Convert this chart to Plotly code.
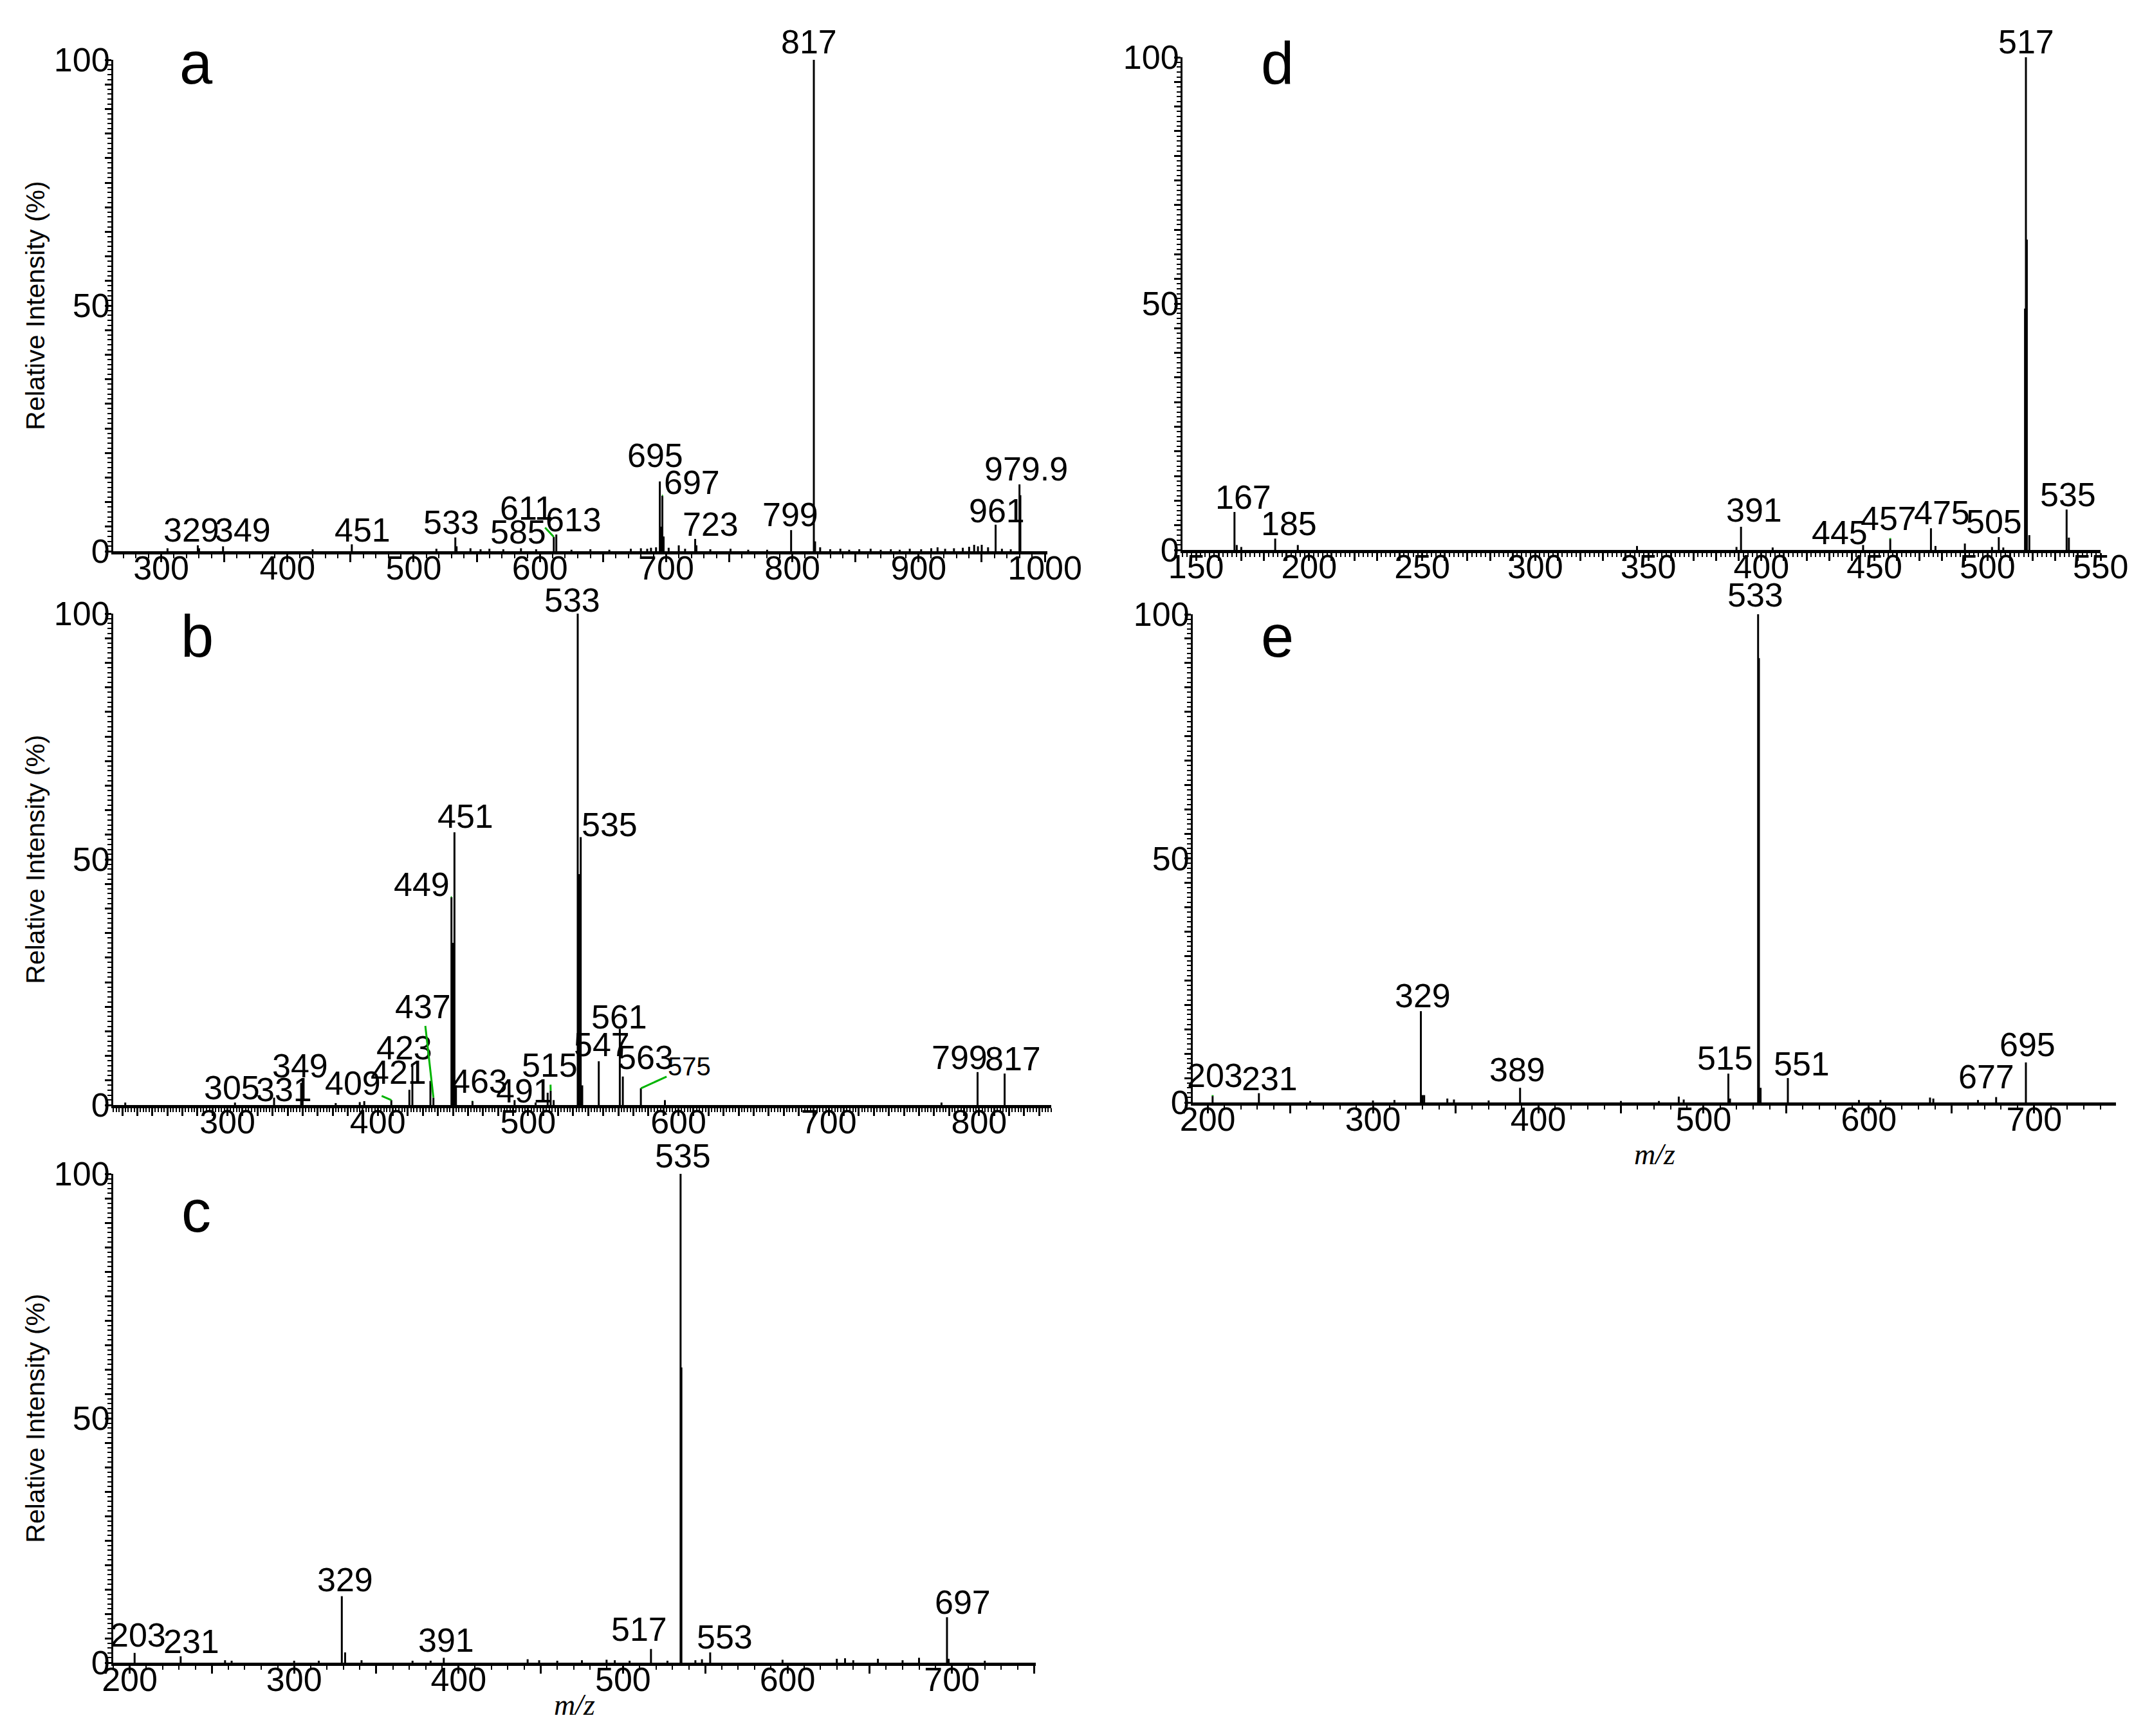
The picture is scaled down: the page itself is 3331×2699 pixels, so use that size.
import plotly.graph_objects as go

W, H = 3331, 2699

# ------------------------------------------------------------------ data
# Panel a
A_MZ = [305, 329, 330, 349, 420, 451, 518, 533, 534, 545, 553, 560, 571, 585, 597, 611, 613, 625, 640,
        655, 672, 680, 685, 688, 692, 695, 696, 697, 698, 702, 710, 715, 723, 724, 735, 751, 765, 780,
        799, 817, 818, 822, 830, 838, 845, 853, 862, 870, 878, 885, 893, 902, 910, 915, 921, 928, 935,
        940, 944, 947, 950, 955, 961, 966, 973, 979.9, 980.6]
A_INT = [0.6, 1.2, 0.6, 1.0, 0.4, 1.4, 0.5, 2.8, 1.0, 0.6, 0.4, 0.5, 0.4, 0.6, 0.4, 2.9, 3.4, 0.3, 0.4,
         0.3, 0.5, 0.6, 0.5, 0.7, 0.8, 14.2, 5.0, 11.3, 3.0, 0.7, 1.2, 0.5, 2.5, 1.2, 0.4, 0.5, 0.3, 0.3,
         4.3, 100, 2.0, 0.8, 0.4, 0.5, 0.3, 0.4, 0.5, 0.3, 0.4, 0.3, 0.5, 0.4, 0.6, 0.8, 0.5, 0.6, 0.7,
         0.9, 1.3, 1.0, 1.3, 0.8, 5.4, 0.5, 0.4, 13.6, 11.4]
A_LABEL_MZ = [329, 349, 451, 533, 585, 611, 613, 695, 697, 723, 799, 817, 961, 979.9]
A_LABEL_TEXT = ["329", "349", "451", "533", "585", "611", "613", "695", "697", "723", "799", "817", "961", "979.9"]

# Panel b
B_MZ = [232, 305, 331, 349, 350, 372, 388, 391, 409, 421, 423, 435, 437, 449, 450, 451, 452, 463, 491,
        505, 513, 515, 517, 533, 534, 535, 536, 547, 561, 563, 575, 591, 775, 799, 817]
B_INT = [0.5, 0.5, 1.5, 4.5, 1.5, 0.4, 0.6, 0.8, 1.0, 3.1, 8.4, 4.9, 1.5, 42.3, 33.0, 55.5, 4.0, 0.8, 1.0,
         0.5, 2.5, 2.9, 1.0, 100, 47.0, 54.5, 4.0, 8.9, 15.5, 5.8, 3.4, 1.0, 0.5, 6.7, 6.4]
B_LABEL_MZ = [305, 331, 349, 409, 421, 423, 437, 449, 451, 463, 491, 515, 533, 535, 547, 561, 563, 575, 799, 817]
B_LABEL_TEXT = ["305", "331", "349", "409", "421", "423", "437", "449", "451", "463", "491", "515", "533",
                "535", "547", "561", "563", "575", "799", "817"]

# Panel c
C_MZ = [203, 231, 258, 262, 300, 315, 329, 331, 341, 372, 383, 391, 442, 449, 460, 475, 490, 495, 504,
        517, 527, 535, 535.5, 544, 548, 553, 597, 630, 635, 640, 655, 670, 680, 697, 698, 720]
C_INT = [2.0, 1.3, 0.5, 0.4, 0.4, 0.4, 13.6, 2.1, 0.5, 0.4, 0.4, 1.0, 0.7, 0.5, 0.4, 0.5, 0.6, 0.5, 0.4,
         2.8, 0.4, 100, 60.4, 0.5, 0.7, 2.1, 0.6, 0.8, 0.9, 0.5, 0.8, 0.5, 1.0, 9.3, 0.8, 0.4]
C_LABEL_MZ = [203, 231, 329, 391, 517, 535, 553, 697]
C_LABEL_TEXT = ["203", "231", "329", "391", "517", "535", "553", "697"]

# Panel d
D_MZ = [167, 168, 170, 185, 195, 345, 389, 391, 405, 445, 457, 475, 477, 490, 502, 505, 507,
        516.6, 517, 517.4, 518.5, 535, 536]
D_INT = [7.7, 1.0, 0.6, 2.3, 1.0, 0.8, 0.6, 4.7, 0.5, 1.0, 2.2, 4.4, 0.8, 1.3, 0.6, 2.6, 0.5,
         49.0, 100, 63.0, 3.0, 8.2, 2.5]
D_LABEL_MZ = [167, 185, 391, 445, 457, 475, 505, 517, 535]
D_LABEL_TEXT = ["167", "185", "391", "445", "457", "475", "505", "517", "535"]

# Panel e
E_MZ = [203, 231, 262, 300, 313, 329, 330, 331, 345, 349, 370, 389, 450, 473, 485, 488, 515, 516,
        533, 533.5, 534.5, 551, 594, 607, 637, 639, 666, 677, 695]
E_INT = [1.3, 1.9, 0.3, 0.4, 0.5, 18.7, 1.5, 1.5, 0.8, 0.6, 0.4, 3.0, 0.3, 0.3, 1.2, 0.6, 5.9, 0.8,
         100, 91.0, 3.0, 5.0, 0.5, 0.5, 1.0, 0.8, 0.5, 1.1, 8.2]
E_LABEL_MZ = [203, 231, 329, 389, 515, 533, 551, 677, 695]
E_LABEL_TEXT = ["203", "231", "329", "389", "515", "533", "551", "677", "695"]

# tick labels
Y_TICK_LABELS = {0: "0", 50: "50", 100: "100"}
A_XTICK_LABELS = ["300", "400", "500", "600", "700", "800", "900", "1000"]
B_XTICK_LABELS = ["300", "400", "500", "600", "700", "800"]
C_XTICK_LABELS = ["200", "300", "400", "500", "600", "700"]
D_XTICK_LABELS = ["150", "200", "250", "300", "350", "400", "450", "500", "550"]
E_XTICK_LABELS = ["200", "300", "400", "500", "600", "700"]

Y_TITLE = "Relative Intensity (%)"
X_TITLE = "<i>m/z</i>"

# ------------------------------------------------------------------ styles / layout
FONT = "Liberation Sans, Arial, sans-serif"
GREEN = "#00b400"

# label offsets: (dx px, lift px of glyph baseline above the peak top, leader line?)
A_OFF = {"329": (-10, 5, False), "349": (31, 7, True), "451": (17, 3, False), "533": (-6, 6, True),
         "585": (-4, 6, False), "611": (-42, 27, True), "613": (27, 4, False), "695": (-7, 22, False),
         "697": (46, 3, True), "723": (24, 5, True), "799": (-1, 5, False), "817": (-8, 9, False),
         "961": (2, 3, False), "979.9": (10, 5, False)}
B_OFF = {"305": (-5, 4, False), "331": (15, -6, False), "349": (-2, 8, False), "409": (-60, 8, True),
         "421": (-17, 9, True), "423": (-12, 6, False), "437": (-16, 124, True), "449": (-46, 2, True),
         "451": (17, 6, False), "463": (11, 13, True), "491": (15, -5, False), "515": (-1, 22, True),
         "533": (-8, 2, False), "535": (45, 2, True), "547": (5, 7, False), "561": (-1, 0, False),
         "563": (35, 12, True), "575": (75, 16, True), "799": (-28, 5, True), "817": (13, 4, False)}
C_OFF = {"203": (5, 10, True), "231": (17, 4, False), "329": (5, 7, False), "391": (4, 8, False),
         "517": (-18, 12, False), "535": (4, 9, False), "553": (23, 5, False), "697": (25, 4, False)}
D_OFF = {"167": (14, 4, False), "185": (21, 4, False), "391": (20, 7, False), "445": (-36, 1, True),
         "457": (-3, 14, True), "475": (17, 5, False), "505": (-7, 5, False), "517": (0, 5, False),
         "535": (2, 4, False)}
E_OFF = {"203": (4, 14, True), "231": (17, 4, False), "329": (3, 5, False), "389": (-4, 9, False),
         "515": (-5, 5, False), "533": (-4, 11, False), "551": (22, 3, False), "677": (-15, 13, False),
         "695": (3, 9, False)}
SMALL_LABELS = {"575": 40}

# panel geometry in pixels: (x0, x1, ytop, ybottom)
PANELS = {
    "a": dict(px=(168, 1620, 85, 849), xr=[262, 1002], major=50, minor=10, ticks=A_XTICK_LABELS,
              mz=A_MZ, it=A_INT, lmz=A_LABEL_MZ, ltx=A_LABEL_TEXT, off=A_OFF, ytitle=True, xtitle=None,
              letter=(297, 90)),
    "b": dict(px=(168, 1626, 946, 1710), xr=[224, 848], major=10, minor=2, ticks=B_XTICK_LABELS,
              mz=B_MZ, it=B_INT, lmz=B_LABEL_MZ, ltx=B_LABEL_TEXT, off=B_OFF, ytitle=True, xtitle=None,
              letter=(298, 981)),
    "c": dict(px=(168, 1602, 1817, 2577), xr=[190, 751], major=50, minor=10, ticks=C_XTICK_LABELS,
              mz=C_MZ, it=C_INT, lmz=C_LABEL_MZ, ltx=C_LABEL_TEXT, off=C_OFF, ytitle=True, xtitle=2642,
              letter=(297, 1875)),
    "d": dict(px=(1830, 3257, 81, 847), xr=[144, 550], major=10, minor=2, ticks=D_XTICK_LABELS,
              mz=D_MZ, it=D_INT, lmz=D_LABEL_MZ, ltx=D_LABEL_TEXT, off=D_OFF, ytitle=False, xtitle=None,
              letter=(1977, 90)),
    "e": dict(px=(1846, 3281, 947, 1706), xr=[191, 749.5], major=50, minor=10, ticks=E_XTICK_LABELS,
              mz=E_MZ, it=E_INT, lmz=E_LABEL_MZ, ltx=E_LABEL_TEXT, off=E_OFF, ytitle=False, xtitle=1786,
              letter=(1977, 981)),
}

LABEL_FONT = 52
TICK_FONT = 52
BOX_BELOW_BASELINE = 12   # px from glyph baseline to bottom of annotation box
CAP_HALF = 18

fig = go.Figure()
annotations = []
layout_axes = {}

for i, (name, p) in enumerate(PANELS.items(), start=1):
    sx = "" if i == 1 else str(i)
    xa, ya = "x" + sx, "y" + sx
    x0, x1, yt, yb = p["px"]

    xs, ys = [], []
    for m, h in zip(p["mz"], p["it"]):
        xs += [m, m, None]
        ys += [0, h, None]
    fig.add_trace(go.Scatter(x=xs, y=ys, mode="lines", xaxis=xa, yaxis=ya,
                             line=dict(color="black", width=3), hoverinfo="skip", showlegend=False,
                             cliponaxis=False))

    # x ticks
    lo, hi = p["xr"]
    start = int((lo // p["major"] + 1) * p["major"])
    tv = list(range(start, int(hi) + 1, p["major"]))
    tt = [str(v) if str(v) in p["ticks"] else "" for v in tv]
    layout_axes["xaxis" + sx] = dict(
        domain=[x0 / W, x1 / W], range=p["xr"], anchor=ya, showline=True, linewidth=5, linecolor="black",
        ticks="outside", ticklen=12, tickwidth=3, tickcolor="black", tickvals=tv, ticktext=tt,
        ticklabelstandoff=-35,
        minor=dict(dtick=p["minor"], ticks="outside", ticklen=6, tickwidth=2, tickcolor="black", showgrid=False),
        showgrid=False, zeroline=False, tickfont=dict(family=FONT, size=TICK_FONT, color="black"),
        automargin=False)
    ytv = list(range(0, 101, 5))
    ytt = [Y_TICK_LABELS.get(v, "") for v in ytv]
    layout_axes["yaxis" + sx] = dict(
        domain=[1 - yb / H, 1 - yt / H], range=[0, 100], anchor=xa, showline=True, linewidth=3,
        linecolor="black", ticks="outside", ticklen=10, tickwidth=3, tickcolor="black",
        tickvals=ytv, ticktext=ytt, ticklabelstandoff=-18,
        minor=dict(dtick=1, ticks="outside", ticklen=6, tickwidth=2, tickcolor="black", showgrid=False),
        showgrid=False, zeroline=False, tickfont=dict(family=FONT, size=TICK_FONT, color="black"),
        title=dict(text=Y_TITLE if p["ytitle"] else "", standoff=2,
                   font=dict(family=FONT, size=41, color="black")),
        automargin=False)

    # peak labels
    for m, txt in zip(p["lmz"], p["ltx"]):
        h = p["it"][p["mz"].index(m)]
        dx, lift, leader = p["off"][txt]
        fs = SMALL_LABELS.get(txt, LABEL_FONT)
        if leader:
            annotations.append(dict(
                x=m, y=h, xref=xa, yref=ya, text=txt, showarrow=True, ax=dx, ay=-(lift + CAP_HALF),
                arrowhead=0, arrowwidth=3, arrowcolor=GREEN, standoff=0, startstandoff=0,
                font=dict(family=FONT, size=fs, color="black")))
        else:
            annotations.append(dict(
                x=m, y=h, xref=xa, yref=ya, text=txt, showarrow=False, xanchor="center", yanchor="bottom",
                xshift=dx, yshift=lift - BOX_BELOW_BASELINE,
                font=dict(family=FONT, size=fs, color="black")))

    # panel letter
    lx, ly = p["letter"]
    annotations.append(dict(x=lx / W, y=1 - ly / H, xref="paper", yref="paper", text=name,
                            showarrow=False, xanchor="center", yanchor="middle",
                            font=dict(family=FONT, size=92, color="black")))

    # x-axis title
    if p["xtitle"] is not None:
        annotations.append(dict(x=0.5, y=1 - p["xtitle"] / H, xref=xa + " domain", yref="paper",
                                text=X_TITLE, showarrow=False, xanchor="center", yanchor="middle",
                                font=dict(family="Liberation Serif, Times New Roman, serif", size=46,
                                          color="black")))

fig.update_layout(width=W, height=H, margin=dict(l=0, r=0, t=0, b=0), paper_bgcolor="white",
                  plot_bgcolor="white", showlegend=False, annotations=annotations, **layout_axes)

fig.write_html("out.html")
